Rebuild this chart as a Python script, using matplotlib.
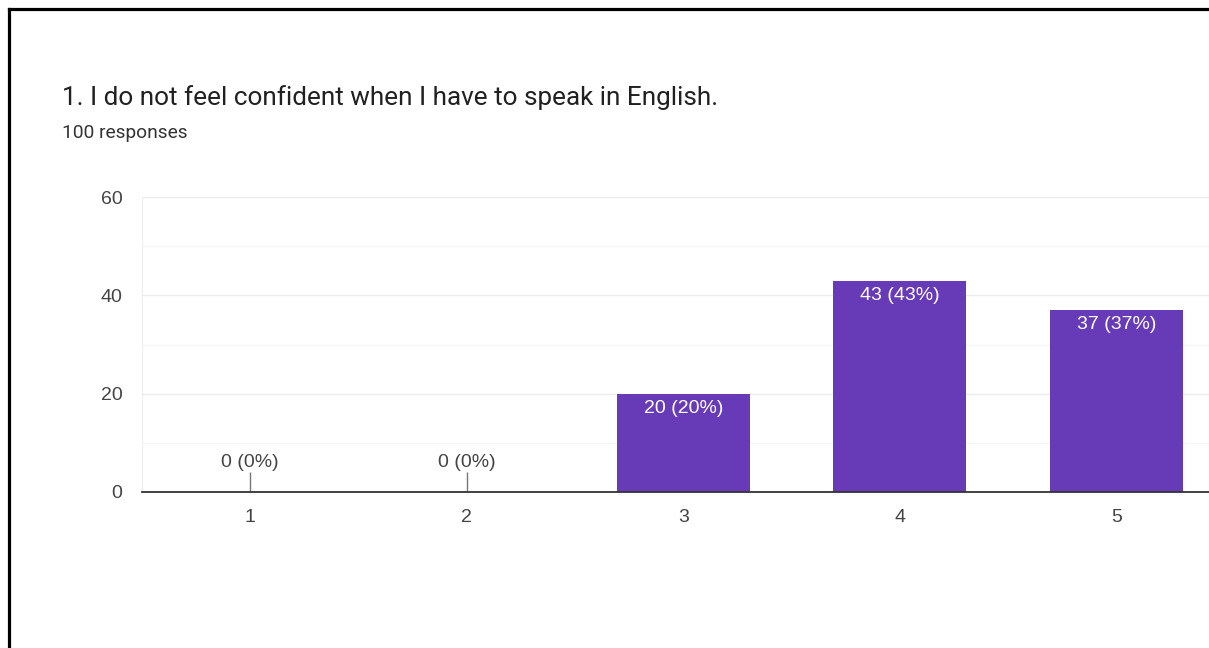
import matplotlib.pyplot as plt
from matplotlib.lines import Line2D

plt.rcParams['font.family'] = ['Liberation Sans', 'DejaVu Sans']

title = "1. I do not feel confident when I have to speak in English."
subtitle = "100 responses"
categories = [1, 2, 3, 4, 5]
counts = [0, 0, 20, 43, 37]
total = 100

W, H = 1209, 648
fig = plt.figure(figsize=(W / 100, H / 100), dpi=100)

# plot area in pixels: left edge 142, y=0 at 492, y=60 at 197, one category = 216.5 px
left, bottom, top = 142, 492, 197
width = 5 * 216.5
ax = fig.add_axes([left / W, 1 - bottom / H, width / W, (bottom - top) / H])

purple = '#673ab7'
xs = [c for c, v in zip(categories, counts) if v > 0]
vs = [v for v in counts if v > 0]
ax.bar(xs, vs, width=0.615, color=purple, zorder=3)

for c, v in zip(categories, counts):
    label = f"{v} ({round(100 * v / total)}%)"
    if v > 0:
        ax.annotate(label, (c, v), xytext=(0, -10.5), textcoords='offset points',
                    ha='center', va='center', color='white', fontsize=14, zorder=4)
    else:
        ax.vlines(c, 0, 4, color='#777777', linewidth=1, zorder=3)
        ax.annotate(label, (c, 0), xytext=(0, 21.5), textcoords='offset points',
                    ha='center', va='center', color='#444444', fontsize=14)

ax.set_xlim(0.5, 5.5)
ax.set_ylim(0, 60)
ax.set_xticks(categories)
ax.set_yticks([0, 20, 40, 60])
ax.set_yticks([10, 30, 50], minor=True)
ax.tick_params(axis='both', which='both', length=0, labelsize=14, labelcolor='#444444')
ax.tick_params(axis='x', pad=12)
ax.tick_params(axis='y', pad=14)
ax.grid(axis='y', which='major', color='#ebebeb', linewidth=1, zorder=0)
ax.grid(axis='y', which='minor', color='#f5f5f5', linewidth=1, zorder=0)
for s in ['top', 'right']:
    ax.spines[s].set_visible(False)
ax.spines['left'].set_color('#eeeeee')
ax.spines['bottom'].set_color('#333333')
ax.spines['bottom'].set_linewidth(1.3)
ax.spines['bottom'].set_zorder(5)

fig.text(62 / W, 1 - 98 / H, title, fontsize=18.8, color='#212121', va='center', ha='left',
         family='Roboto')
fig.text(62 / W, 1 - 133 / H, subtitle, fontsize=13.8, color='#333333', va='center', ha='left',
         family='Roboto')

# frame lines on the left and top
fig.add_artist(Line2D([8.5 / W, 8.5 / W], [0, 1 - 8.5 / H], color='black', linewidth=2.3))
fig.add_artist(Line2D([8.5 / W, 1], [1 - 8.5 / H, 1 - 8.5 / H], color='black', linewidth=2.3))

fig.savefig('out.png', dpi=100)
